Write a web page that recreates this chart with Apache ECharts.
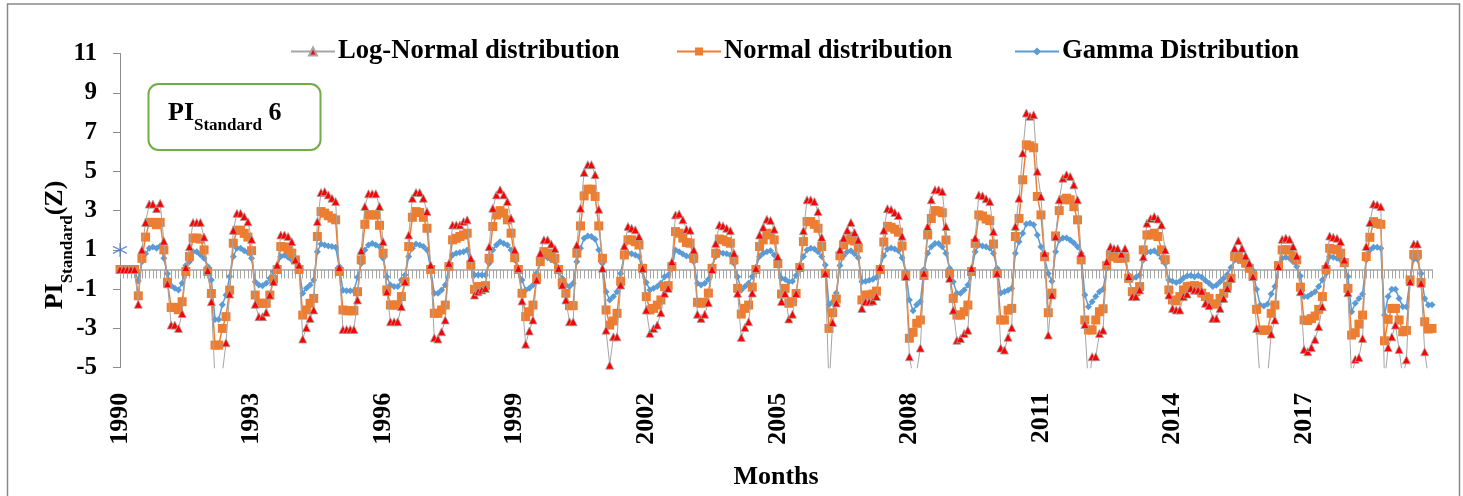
<!DOCTYPE html>
<html>
<head>
<meta charset="utf-8">
<script src="https://cdn.jsdelivr.net/npm/echarts@6/dist/echarts.min.js"></script>
<style>
html,body{margin:0;padding:0;background:#fff;}
#chart{width:1463px;height:496px;}
</style>
</head>
<body>
<div id="chart"></div>
<script>
// Monthly standardized precipitation index (6-month scale), 1990-2019
const years = [1990,1991,1992,1993,1994,1995,1996,1997,1998,1999,2000,2001,2002,2003,2004,
               2005,2006,2007,2008,2009,2010,2011,2012,2013,2014,2015,2016,2017,2018,2019];
const yearTicks = ['1990','1993','1996','1999','2002','2005','2008','2011','2014','2017'];
const yTicks = [-5,-3,-1,1,3,5,7,9,11];

// Log-Normal distribution, one row per year (Jan..Dec)
const logNormal = [
  0,0,0,0,0,-1.77,1.0,2.4,3.33,3.33,3.1,3.37,
  1.45,-0.73,-2.83,-2.83,-3.0,-2.24,0.1,1.16,2.4,2.4,2.4,1.65,
  -0.05,-1.64,-5.6,-6.0,-5.3,-3.73,-1.25,2.0,2.86,2.86,2.7,2.43,
  1.54,-1.77,-2.4,-2.4,-2.18,-1.3,-0.62,0.23,1.76,1.76,1.68,1.42,
  0.49,0.23,-3.54,-2.96,-2.49,-2.06,2.44,3.92,3.97,3.8,3.63,3.46,
  0.1,-3.05,-3.05,-3.05,-3.05,-1.55,0.96,3.21,3.86,3.86,3.86,3.21,
  1.42,-1.13,-2.66,-2.66,-2.66,-1.89,-0.62,1.76,3.63,3.92,3.92,3.63,
  2.95,0.23,-3.48,-3.54,-3.17,-2.57,0.32,2.27,2.27,2.27,2.44,2.53,
  0.57,-1.3,-1.13,-1.04,-0.96,1.16,3.12,3.8,4.06,3.8,3.46,2.61,
  1.0,0.06,-1.6,-3.8,-3.13,-2.57,-0.53,0.83,1.51,1.51,1.3,1.06,
  0.06,-0.79,-1.55,-2.66,-2.66,1.25,3.12,4.94,5.34,5.34,4.83,3.07,
  0.06,-3.09,-4.87,-3.43,-3.43,-0.79,1.2,2.19,2.1,2.02,1.68,0.06,
  -2.06,-3.25,-3.0,-2.83,-2.2,-1.21,-0.96,0.4,2.78,2.83,2.53,2.05,
  2.0,1.0,-2.28,-2.49,-2.28,-1.69,0.0,1.33,2.27,2.22,2.1,1.98,
  0.83,-1.21,-3.46,-2.95,-2.66,-1.2,0.06,1.76,2.15,2.56,2.5,2.05,
  0.65,-1.63,-1.22,-2.52,-2.28,-1.22,0.15,1.98,3.55,3.55,3.46,2.95,
  1.64,-0.19,-6.0,-2.7,-1.7,1.0,1.6,2.0,2.4,1.88,1.5,-1.98,
  -1.64,-1.64,-1.6,-1.38,0.1,2.0,3.1,3.05,2.9,2.75,1.7,-0.36,
  -4.44,-5.5,-5.2,-4.0,-0.19,2.19,3.55,4.06,4.06,3.97,2.19,-0.45,
  -2.07,-3.6,-3.52,-3.26,-3.09,0.06,1.6,3.8,3.75,3.6,3.46,1.93,
  -0.19,-4.0,-4.1,-3.45,-2.96,2.2,3.63,5.93,7.97,7.8,7.88,5.0,
  3.72,0.83,-3.34,-1.3,1.67,3.55,4.65,4.83,4.74,4.31,3.55,0.83,
  -2.8,-6.0,-4.44,-4.44,-3.26,-3.09,0.4,1.16,1.07,1.07,0.79,1.07,
  -0.36,-1.38,-1.38,-1.04,0.65,2.36,2.6,2.7,2.57,2.27,1.0,-1.3,
  -1.98,-2.06,-2.06,-1.38,-1.25,-0.96,-1.05,-1.05,-1.1,-1.72,-1.84,-2.49,
  -2.49,-1.98,-1.47,-0.96,-0.45,1.08,1.47,1.08,0.69,0.32,-0.36,-3.0,
  -5.8,-5.8,-5.5,-3.29,-2.57,0.15,1.54,1.6,1.54,1.17,0.69,-1.13,
  -4.07,-4.19,-3.97,-3.56,-2.91,-1.89,0.23,1.71,1.64,1.59,1.42,0.49,
  -1.18,-5.5,-4.57,-4.48,-3.51,1.17,2.39,3.34,3.3,3.2,-5.8,-3.97,
  -3.43,-2.83,-4.07,-5.5,-4.6,-0.62,1.3,1.3,-0.7,-4.19,-5.5,-5.2
];

// Normal distribution
const normal = [
  0,0,0,0,0,-1.34,0.57,1.65,2.4,2.4,2.28,2.4,
  1.0,-0.65,-1.93,-1.93,-2.05,-1.64,-0.1,0.66,1.6,1.6,1.55,1.0,
  -0.1,-1.22,-3.85,-3.85,-3.0,-2.4,-1.05,1.34,2.0,2.0,1.84,1.65,
  0.96,-1.3,-1.72,-1.72,-1.72,-1.3,-0.5,0.0,1.17,1.15,1.02,0.83,
  0.49,0.0,-2.32,-2.06,-1.72,-1.47,1.68,2.95,2.87,2.74,2.62,2.53,
  -0.1,-2.06,-2.1,-2.1,-2.1,-1.13,0.49,2.3,2.78,2.78,2.78,2.25,
  0.83,-1.04,-1.81,-1.81,-1.81,-1.38,-0.62,1.17,2.66,2.95,2.9,2.66,
  2.1,0.0,-2.23,-2.23,-2.06,-1.81,0.15,1.51,1.59,1.68,1.76,1.85,
  0.23,-1.01,-0.87,-0.87,-0.82,0.57,2.19,2.78,3.0,2.87,2.53,1.85,
  0.6,0.0,-1.21,-2.4,-2.15,-1.81,-0.45,0.4,0.91,0.83,0.74,0.57,
  0.0,-0.68,-1.21,-1.84,-1.84,0.83,2.22,3.75,4.09,4.09,3.72,2.22,
  0.57,-2.06,-2.83,-2.62,-2.23,-0.6,0.74,1.51,1.51,1.42,1.25,0.06,
  -1.38,-2.06,-1.98,-1.81,-1.55,-0.87,-0.82,0.15,1.93,1.85,1.6,1.38,
  1.34,0.57,-1.67,-1.72,-1.67,-1.2,0.06,0.83,1.55,1.51,1.42,1.34,
  0.49,-0.96,-2.27,-1.98,-1.81,-0.9,0.0,1.17,1.51,1.85,1.76,1.51,
  0.3,-1.25,-0.96,-1.72,-1.64,-1.22,0.1,1.42,2.44,2.44,2.3,2.1,
  1.17,-0.2,-3.0,-2.2,-1.5,0.7,1.25,1.5,1.7,1.45,1.1,-1.55,
  -1.3,-1.3,-1.25,-1.1,0.0,1.4,2.2,2.15,2.05,1.9,1.2,-0.3,
  -3.5,-3.2,-2.74,-2.57,-0.3,1.76,2.6,3.0,2.97,2.89,1.5,-0.2,
  -1.47,-2.32,-2.32,-2.15,-1.81,-0.1,1.33,2.78,2.72,2.57,2.49,1.3,
  -0.2,-2.57,-2.57,-2.07,-1.98,1.68,2.6,4.57,6.35,6.3,6.2,3.72,
  2.78,0.65,-2.2,-1.2,1.71,3.0,3.55,3.63,3.55,3.2,2.53,0.49,
  -2.57,-3.08,-3.08,-2.57,-2.15,-2.0,0.2,0.74,0.65,0.57,0.57,0.6,
  -0.45,-1.13,-1.13,-0.87,1.0,1.76,1.76,1.85,1.68,1.0,0.5,-1.04,
  -1.55,-1.6,-1.38,-1.04,-0.87,-0.85,-0.82,-0.87,-1.2,-1.38,-1.47,-1.76,
  -1.76,-1.47,-1.21,-0.84,-0.45,0.66,0.7,0.52,0.32,0.06,-0.33,-2.03,
  -3.08,-3.1,-3.08,-2.23,-1.81,0.2,1.0,1.0,1.0,0.69,0.49,-0.9,
  -2.57,-2.6,-2.5,-2.37,-2.03,-1.38,0.0,1.08,1.03,1.0,0.83,0.35,
  -0.96,-3.34,-3.22,-2.78,-2.32,0.66,1.64,2.44,2.35,2.3,-3.63,-2.54,
  -1.98,-1.98,-2.57,-3.17,-3.1,-0.53,0.77,0.77,-0.66,-2.66,-3.03,-3.0
];

// Gamma distribution
const gamma = [
  0,0,0,0,0,-0.58,0.4,0.8,1.08,1.15,1.08,1.2,
  0.57,-0.22,-0.83,-0.95,-1.04,-0.7,0.2,0.4,0.9,0.9,0.75,0.57,
  0.15,-0.53,-2.54,-2.54,-1.8,-1.3,-0.36,0.66,1.08,1.08,0.96,0.86,
  0.57,-0.62,-0.79,-0.83,-0.7,-0.45,-0.1,0.15,0.66,0.72,0.62,0.49,
  0.4,0.06,-1.21,-0.96,-0.79,-0.53,0.91,1.3,1.25,1.2,1.17,1.13,
  0.15,-1.05,-1.08,-1.08,-1.08,-0.4,0.3,1.0,1.25,1.33,1.25,1.17,
  0.57,-0.37,-0.79,-0.87,-0.87,-0.53,-0.28,0.66,1.08,1.3,1.25,1.17,
  1.0,0.06,-1.21,-1.21,-1.04,-0.79,0.15,0.74,0.83,0.86,0.91,0.99,
  0.18,-0.28,-0.28,-0.28,-0.28,0.3,1.0,1.25,1.42,1.33,1.25,1.0,
  0.5,-0.1,-0.53,-1.04,-0.96,-0.79,-0.19,0.4,0.66,0.6,0.5,0.4,
  -0.1,-0.45,-0.79,-0.87,-0.7,0.4,1.08,1.59,1.71,1.68,1.54,1.0,
  0.3,-1.13,-1.55,-1.38,-1.13,-0.2,0.74,0.83,0.8,0.74,0.66,-0.1,
  -0.66,-1.04,-0.96,-0.87,-0.7,-0.37,-0.28,0.06,1.0,0.91,0.79,0.69,
  0.66,0.4,-0.7,-0.79,-0.7,-0.5,0.15,0.66,0.86,0.83,0.8,0.74,
  0.3,-0.37,-1.04,-0.87,-0.7,-0.35,0.1,0.66,0.83,0.91,0.96,0.74,
  0.25,-0.45,-0.5,-0.62,-0.6,-0.3,0.23,0.66,1.0,1.08,1.04,0.91,
  0.66,0.23,-1.8,-1.65,-1.2,0.2,0.7,0.9,0.95,0.8,0.6,-0.62,
  -0.6,-0.55,-0.5,-0.4,0.1,0.7,1.05,1.1,1.05,0.95,0.6,-0.1,
  -1.55,-2.1,-1.8,-1.63,0.0,0.83,1.16,1.33,1.33,1.16,0.83,0.06,
  -0.62,-1.21,-1.21,-1.04,-0.79,-0.1,0.9,1.25,1.2,1.16,1.08,0.83,
  0.06,-1.2,-1.13,-1.05,-0.96,0.83,1.42,1.85,2.32,2.36,2.28,1.76,
  1.16,0.57,-0.2,-0.6,0.91,1.5,1.6,1.6,1.5,1.35,1.16,0.83,
  -1.3,-1.89,-1.64,-1.38,-1.13,-1.0,0.06,0.74,0.65,0.65,0.6,0.55,
  -0.28,-0.45,-0.4,-0.28,0.49,0.91,0.91,0.96,0.83,0.57,0.3,-0.53,
  -0.6,-0.66,-0.6,-0.43,-0.33,-0.3,-0.37,-0.3,-0.4,-0.56,-0.7,-0.87,
  -0.8,-0.62,-0.45,-0.25,0.1,0.49,0.45,0.4,0.3,0.15,-0.05,-1.01,
  -1.81,-1.86,-1.76,-1.25,-0.87,0.2,0.57,0.62,0.57,0.4,0.15,-0.33,
  -1.38,-1.38,-1.25,-1.13,-0.87,-0.53,-0.2,0.66,0.62,0.57,0.49,0.3,
  -0.36,-2.15,-1.72,-1.47,-1.25,0.49,1.0,1.13,1.13,1.08,-2.32,-1.38,
  -1.01,-1.0,-1.47,-1.89,-1.89,-0.5,0.52,0.52,-0.2,-1.47,-1.81,-1.8
];

// single reference mark at the first month
const startMark = [[0, 1]];

const months = [];
years.forEach(y => { for (let m = 1; m <= 12; m++) months.push(y + '-' + (m < 10 ? '0' + m : m)); });

const FONT = '"Liberation Serif","Times New Roman",serif';
const AXIS_GRAY = '#8c8c8c';

const chart = echarts.init(document.getElementById('chart'), null, {renderer: 'canvas'});

const legendBase = {
  top: 33,
  itemWidth: 44,
  itemHeight: 10,
  itemGap: 0,
  textStyle: {fontFamily: FONT, fontWeight: 'bold', fontSize: 26.6, color: '#000', padding: [0, 0, 0, -2]},
  selectedMode: false
};

chart.setOption({
  animation: false,
  backgroundColor: '#ffffff',
  grid: {left: 120, right: 31, top: 53.5, bottom: 128.3, outerBoundsMode: 'none', containLabel: false},
  legend: [
    Object.assign({}, legendBase, {left: 285, data: ['Log-Normal distribution']}),
    Object.assign({}, legendBase, {left: 671, data: ['Normal distribution']}),
    Object.assign({}, legendBase, {left: 1009, data: ['Gamma Distribution']})
  ],
  xAxis: [
    {
      type: 'category',
      data: months,
      boundaryGap: false,
      position: 'bottom',
      axisLine: {show: false, onZero: false},
      axisTick: {show: false},
      splitLine: {show: false},
      axisLabel: {
        interval: (i) => i % 36 === 0,
        formatter: (v, i) => yearTicks[i / 36] || '',
        rotate: 90,
        margin: 25,
        fontFamily: FONT, fontWeight: 'bold', fontSize: 26, color: '#000'
      },
      name: 'Months',
      nameLocation: 'middle',
      nameGap: 97,
      nameTextStyle: {fontFamily: FONT, fontWeight: 'bold', fontSize: 26, color: '#000'}
    },
    {
      type: 'category',
      data: months,
      boundaryGap: false,
      position: 'bottom',
      axisLine: {show: true, onZero: true, lineStyle: {color: '#a6a6a6', width: 1.5}},
      axisTick: {show: true, interval: 0, length: 9, lineStyle: {color: '#a6a6a6', width: 1}},
      axisLabel: {show: false},
      splitLine: {show: false}
    }
  ],
  yAxis: {
    type: 'value',
    min: -5, max: 11, interval: 2,
    axisLine: {show: true, onZero: false, lineStyle: {color: AXIS_GRAY, width: 1}},
    axisTick: {show: true, length: 7, lineStyle: {color: AXIS_GRAY}},
    splitLine: {show: false},
    axisLabel: {
      margin: 23,
      formatter: (v) => (yTicks.indexOf(v) >= 0 ? String(v) : ''),
      fontFamily: FONT, fontWeight: 'bold', fontSize: 25, color: '#000'
    }
  },
  series: [
    {
      name: 'Gamma Distribution',
      type: 'line',
      xAxisIndex: 0,
      data: gamma,
      symbol: 'diamond',
      symbolSize: 7,
      showAllSymbol: true,
      lineStyle: {color: '#5b9bd5', width: 1.5},
      itemStyle: {color: '#5b9bd5'},
      z: 2
    },
    {
      name: 'Normal distribution',
      type: 'line',
      xAxisIndex: 0,
      data: normal,
      symbol: 'rect',
      symbolSize: 9,
      showAllSymbol: true,
      lineStyle: {color: '#ed7d31', width: 1.5},
      itemStyle: {color: '#ed7d31'},
      z: 3
    },
    {
      name: 'Log-Normal distribution',
      type: 'line',
      xAxisIndex: 0,
      data: logNormal,
      symbol: 'triangle',
      symbolSize: 8,
      showAllSymbol: true,
      lineStyle: {color: '#a5a5a5', width: 1},
      itemStyle: {color: '#ff0000', borderColor: '#a5a5a5', borderWidth: 0.8},
      z: 4
    },
    {
      name: 'start',
      type: 'scatter',
      xAxisIndex: 0,
      data: startMark,
      symbol: 'path://M0,-6L0,6M-5.2,-3L5.2,3M-5.2,3L5.2,-3',
      symbolSize: 14,
      itemStyle: {color: 'rgba(0,0,0,0)', borderColor: '#4472c4', borderWidth: 1.2},
      z: 5
    }
  ],
  graphic: [
    {
      type: 'rect',
      shape: {x: 7.5, y: 4, width: 1452, height: 520},
      style: {fill: 'none', stroke: '#898989', lineWidth: 1.5},
      silent: true, z: -10
    },
    {
      type: 'rect',
      shape: {x: 148.5, y: 84, width: 172, height: 66, r: 10},
      style: {fill: '#fff', stroke: '#70ad47', lineWidth: 2},
      silent: true, z: 10
    },
    {
      type: 'text',
      x: 168, y: 111,
      style: {
        text: '{a|PI}{b|Standard}{a| 6}',
        rich: {
          a: {fontFamily: FONT, fontWeight: 'bold', fontSize: 26, fill: '#000', lineHeight: 30, verticalAlign: 'bottom'},
          b: {fontFamily: FONT, fontWeight: 'bold', fontSize: 17, fill: '#000', lineHeight: 30, verticalAlign: 'bottom', padding: [0, 0, -8, 0]}
        },
        verticalAlign: 'middle'
      },
      silent: true, z: 11
    },
    {
      type: 'text',
      x: 53, y: 245,
      rotation: Math.PI / 2,
      style: {
        text: '{a|PI}{b|Standard}{a|(Z)}',
        rich: {
          a: {fontFamily: FONT, fontWeight: 'bold', fontSize: 26, fill: '#000', lineHeight: 30, verticalAlign: 'bottom'},
          b: {fontFamily: FONT, fontWeight: 'bold', fontSize: 17, fill: '#000', lineHeight: 30, verticalAlign: 'bottom', padding: [0, 0, -8, 0]}
        },
        align: 'center',
        verticalAlign: 'middle'
      },
      silent: true, z: 11
    }
  ]
});
</script>
</body>
</html>
